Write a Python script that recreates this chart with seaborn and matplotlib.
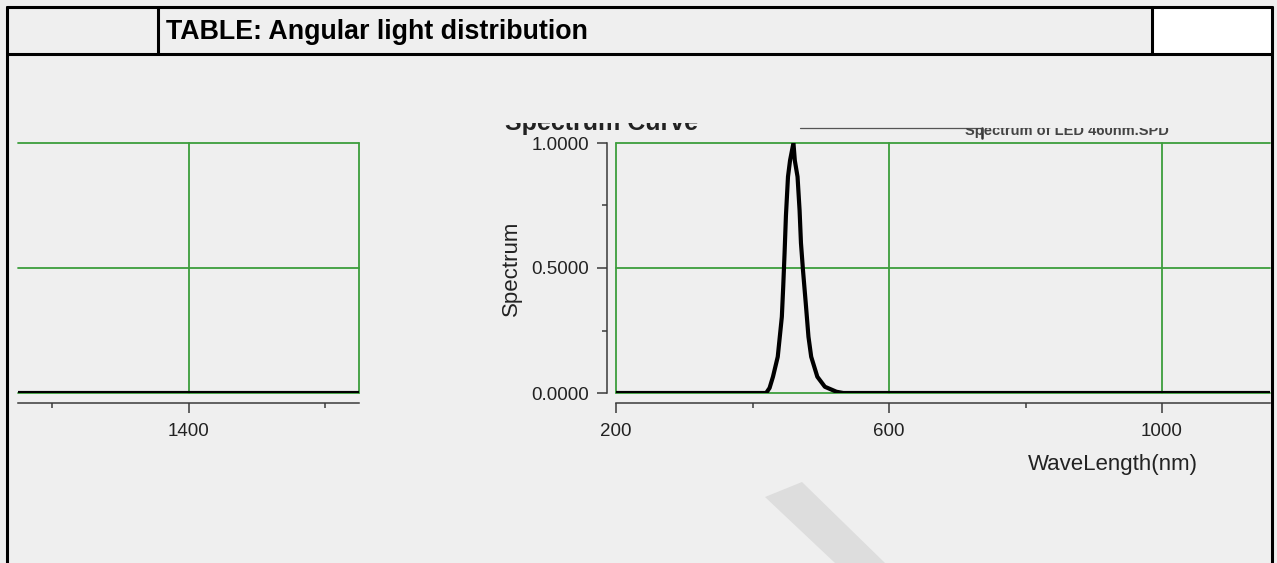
"""Spectrum curve pasted into a report table cell (screenshot recreation)."""

import matplotlib.pyplot as plt
import seaborn as sns
import pandas as pd
from matplotlib.lines import Line2D
from matplotlib.patches import Rectangle, Polygon
from matplotlib.transforms import Bbox, TransformedBbox
from matplotlib.ticker import FixedLocator, FormatStrFormatter, NullFormatter

# --- data ---
wavelength = [200, 420, 425, 430, 437, 440, 443, 445, 447, 449, 452, 455, 460,
              462, 466, 469, 471, 474, 478, 482, 486, 495, 506, 523, 533, 1170]
spectrum = [0, 0, 0.02, 0.065, 0.145, 0.225, 0.305, 0.425, 0.56, 0.71, 0.865, 0.93, 1.0,
            0.93, 0.865, 0.73, 0.6, 0.49, 0.36, 0.225, 0.145, 0.065, 0.025, 0.005, 0, 0]

# neighbouring (cropped) chart on the left is flat at zero
left_wavelength = [1100, 1700]
left_spectrum = [0, 0]

x_major = [200, 600, 1000, 1400, 1800]
x_minor = [400, 800, 1200, 1600]
y_major = [0.0, 0.5, 1.0]
y_minor = [0.25, 0.75]

table_title = "TABLE: Angular light distribution"
chart_title = "Spectrum Curve"
legend_text = "Spectrum of LED 460nm.SPD"

sns.set_style("white")
plt.rcParams['font.family'] = ['Liberation Sans', 'DejaVu Sans']

W, H = 1277, 563
BG = "#efefef"
GREEN = "#3c9e3c"
AXC = "#3a3a3a"


def fx(x):
    return x / W


def fy(y):
    return 1 - y / H


fig = plt.figure(figsize=(W / 100, H / 100), dpi=100, facecolor=BG)


def clip_rows(artist, y_top, y_bottom):
    bb = Bbox.from_extents(0, fy(y_bottom), 1, fy(y_top))
    artist.set_clip_box(TransformedBbox(bb, fig.transFigure))
    artist.set_clip_on(True)


# ====================================
# --- table frame
# ====================================
fig.add_artist(Rectangle((fx(1152), fy(54)), fx(1272) - fx(1152), fy(7) - fy(54),
                         transform=fig.transFigure, facecolor="white", edgecolor="none"))
frame = [
    ((7, 7), (7, 563)),
    ((1272, 1272), (7, 563)),
    ((7, 1272), (7, 7)),
    ((7, 1272), (54, 54)),
    ((158, 158), (7, 54)),
    ((1152, 1152), (7, 54)),
]
for xs, ys in frame:
    fig.add_artist(Line2D([fx(v) for v in xs], [fy(v) for v in ys],
                          transform=fig.transFigure, color="black", lw=2.2))

fig.text(fx(166), fy(39), table_title, fontsize=19.3, fontweight="bold",
         va="baseline", ha="left", color="black")

# faint watermark stripe
fig.add_artist(Polygon([(fx(765), fy(497)), (fx(802), fy(482)), (fx(885), fy(563)), (fx(835), fy(563))],
                       closed=True, transform=fig.transFigure, facecolor="#dddddd", edgecolor="none"))


# ====================================
# --- spectrum axes
# ====================================
def style_axes(ax, xlim, with_y):
    ax.set_facecolor("none")
    ax.set_xlim(*xlim)
    ax.set_ylim(0, 1)
    for side in ["top", "right"]:
        ax.spines[side].set_visible(False)
    ax.spines["bottom"].set_position(("outward", 7.5))
    ax.spines["bottom"].set_color(AXC)
    ax.spines["bottom"].set_linewidth(1.1)
    ax.xaxis.set_major_locator(FixedLocator(x_major))
    ax.xaxis.set_minor_locator(FixedLocator(x_minor))
    ax.xaxis.set_major_formatter(FormatStrFormatter("%d"))
    ax.tick_params(axis="x", which="major", length=7.5, width=1.1, color=AXC,
                   labelsize=13.5, labelcolor="#222222", pad=6.5, bottom=True)
    ax.tick_params(axis="x", which="minor", length=3.8, width=1.1, color=AXC, bottom=True)
    if with_y:
        ax.spines["left"].set_position(("outward", 6.5))
        ax.spines["left"].set_color(AXC)
        ax.spines["left"].set_linewidth(1.1)
        ax.yaxis.set_major_locator(FixedLocator(y_major))
        ax.yaxis.set_minor_locator(FixedLocator(y_minor))
        ax.yaxis.set_major_formatter(FormatStrFormatter("%.4f"))
        ax.yaxis.set_minor_formatter(NullFormatter())
        ax.tick_params(axis="y", which="major", length=7.5, width=1.1, color=AXC,
                       labelsize=13.5, labelcolor="#222222", pad=5.5, left=True)
        ax.tick_params(axis="y", which="minor", length=3.8, width=1.1, color=AXC, left=True)
    else:
        ax.spines["left"].set_visible(False)
        ax.set_yticks([])
    ax.set_xlabel("")
    ax.set_ylabel("")


# left, cropped chart
ax_l = fig.add_axes([fx(18), fy(393), fx(359) - fx(18), fy(143) - fy(393)])
left_df = pd.DataFrame({"wl": left_wavelength, "val": left_spectrum})
sns.lineplot(data=left_df, x="wl", y="val", ax=ax_l, color="black", lw=3.0, zorder=3)
style_axes(ax_l, (1150, 1650), with_y=False)
for xv in [1400, 1650]:
    ax_l.axvline(xv, color=GREEN, lw=1.3, clip_on=False, zorder=1)
for yv in y_major:
    ax_l.axhline(yv, color=GREEN, lw=1.3, clip_on=False, zorder=1)

# right, main chart
ax_r = fig.add_axes([fx(616), fy(393), fx(1270) - fx(616), fy(143) - fy(393)])
spec_df = pd.DataFrame({"wl": wavelength, "val": spectrum})
sns.lineplot(data=spec_df, x="wl", y="val", ax=ax_r, color="black", lw=3.0, zorder=3)
style_axes(ax_r, (200, 200 + (1270 - 616) * 400 / 273), with_y=True)
for xv in [200, 600, 1000]:
    ax_r.axvline(xv, color=GREEN, lw=1.3, clip_on=False, zorder=1)
for yv in y_major:
    ax_r.axhline(yv, color=GREEN, lw=1.3, clip_on=False, zorder=1)

ax_r.set_ylabel("Spectrum", fontsize=16, color="#222222")
ax_r.yaxis.set_label_coords((522 - 616) / 654, 0.5)
ax_r.set_xlabel("WaveLength(nm)", fontsize=16, color="#222222")
ax_r.xaxis.set_label_coords((1113 - 616) / 654, (393 - 454) / 250)

# chart title and legend strip, cut off by the cell above
t = fig.text(fx(505), fy(129.5), chart_title, fontsize=18, fontweight="bold",
             va="baseline", ha="left", color="#222222")
clip_rows(t, 123, 140)

fig.add_artist(Line2D([fx(800), fx(982)], [fy(128), fy(128)], transform=fig.transFigure,
                      color="#555555", lw=0.9))
fig.add_artist(Line2D([fx(982), fx(982)], [fy(128), fy(138)], transform=fig.transFigure,
                      color="#333333", lw=1.8))
lt = fig.text(fx(965), fy(134.5), legend_text, fontsize=10.5, fontweight="bold",
              va="baseline", ha="left", color="#444444")
clip_rows(lt, 127.5, 140)

fig.savefig("out.png", dpi=100, facecolor=BG)
